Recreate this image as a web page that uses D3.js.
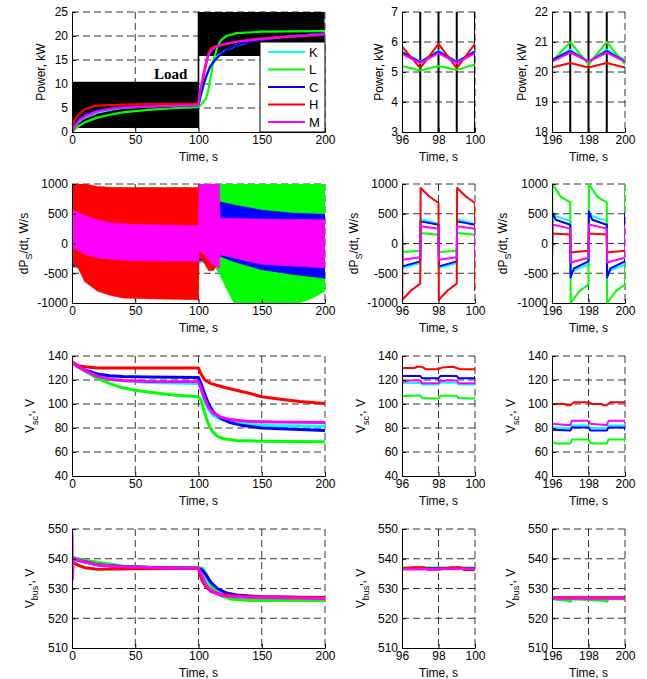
<!DOCTYPE html>
<html><head><meta charset="utf-8">
<script src="https://cdn.jsdelivr.net/npm/d3@7"></script>
<style>
body{margin:0;background:#fff}
text{font-family:"Liberation Sans",Arial,sans-serif;font-size:12px;fill:#000}
</style>
</head><body>
<svg id="fig" width="647" height="679"></svg>
<script>
var names = ["K","L","C","H","M"];
var colors = ["#00ffff","#00ff00","#0000ff","#ff0000","#ff00ff"];

// load demand: [from, to, low kW, high kW], switching every second
var loadLevels = [[0,100,1.0,10.3],[100,200,16,26]];

// power, whole run [t, kW]  (K, L, C, H, M)
var powerFull = [
  [[0,0],[2,1],[5,2],[10,3],[20,4],[30,4.6],[40,5],[60,5.3],[80,5.5],[100,5.6],[102,7.5],[104,9.5],[106,11.5],[108,13],[111,14.5],[115,15.8],[120,16.8],[130,18],[140,18.8],[150,19.3],[170,19.9],[200,20.5]],
  [[0,0],[5,1.2],[10,2],[20,3],[30,3.6],[40,4.1],[60,4.6],[80,4.95],[100,5.2],[103,6],[106,7],[108,9],[110,12],[112,15],[115,17.8],[118,19.2],[122,20],[130,20.6],[150,20.9],[200,21]],
  [[0,0],[2,1.2],[5,2.5],[10,3.5],[20,4.5],[40,5.2],[70,5.5],[100,5.6],[102,8],[104,10],[106,11.5],[109,13.5],[113,15],[118,16.3],[125,17.5],[135,18.5],[150,19.3],[170,19.9],[200,20.5]],
  [[0,0.3],[2,2.5],[5,3.6],[10,4.7],[15,5.2],[20,5.5],[40,5.7],[70,5.85],[100,5.9],[101,8],[102,9.5],[104,11.5],[106,14],[108,16.5],[110,17.5],[113,17.8],[116,18],[125,18.5],[140,19.2],[160,19.7],[200,20.3]],
  [[0,0],[2,1],[5,2.2],[10,3.2],[20,4.3],[30,4.8],[40,5.1],[70,5.4],[100,5.6],[101,8],[103,11],[105,13.5],[107,15.5],[110,17],[114,17.8],[120,18.3],[130,18.8],[150,19.4],[170,19.8],[200,20.4]]
];
var power96 = [
  [[96,5.7],[97,5.35],[98,5.72],[99,5.35],[100,5.72]],
  [[96,5.2],[97,5.05],[98,5.2],[99,5.07],[100,5.25]],
  [[96,5.65],[97,5.33],[98,5.68],[99,5.33],[100,5.68]],
  [[96,5.85],[97,5.13],[98,5.94],[99,5.13],[100,5.94]],
  [[96,5.6],[97,5.3],[98,5.63],[99,5.3],[100,5.63]]
];
var power196 = [
  [[196,20.4],[197,20.75],[198,20.35],[199,20.75],[200,20.4]],
  [[196,20.35],[197,21],[198,20.25],[199,21],[200,20.25]],
  [[196,20.4],[197,20.7],[198,20.35],[199,20.7],[200,20.35]],
  [[196,20.15],[197,20.3],[198,20.15],[199,20.3],[200,20.15]],
  [[196,20.35],[197,20.65],[198,20.35],[199,20.65],[200,20.35]]
];

// dPs/dt whole run, oscillation envelope [t, low, high] W/s
var dpdtBands = [
  [[0,-410,420],[100,-330,420],[117,-300,650],[150,-420,470],[200,-450,420]],
  [[0,-150,200],[100,-120,180],[101,-100,600],[105,-200,900],[110,-300,1000],[117,-530,1000],[123,-800,1000],[128,-1000,1000],[180,-1000,1000],[190,-920,1000],[200,-800,1000]],
  [[0,-390,380],[100,-300,320],[117,-215,700],[130,-320,640],[150,-440,560],[175,-520,510],[200,-585,490]],
  [[0,-330,1000],[5,-420,1000],[10,-640,1000],[15,-720,980],[20,-800,960],[30,-870,945],[40,-915,940],[60,-930,940],[100,-945,940],[100.5,-200,1000],[105,-350,1000],[108,-460,1000],[112,-450,1000],[116,-300,1000],[117,-150,170],[200,-120,150]],
  [[0,-1000,1000],[0.5,-80,560],[5,-120,520],[10,-180,470],[20,-240,400],[30,-270,350],[50,-290,320],[100,-300,300],[100.5,-120,1000],[105,-200,1000],[110,-330,1000],[116.5,-420,1000],[117,-190,430],[150,-350,410],[200,-410,400]]
];
var dpdt96 = [
  [[96,330],[96.02,-412],[97,-328],[97.02,412],[98,328],[98.02,-412],[99,-328],[99.02,412],[100,328]],
  [[96,148],[96.02,-143],[97,-120],[97.02,176],[98,148],[98.02,-143],[99,-120],[99.02,176],[100,148]],
  [[96,316],[96.02,-384],[97,-300],[97.02,372],[98,316],[98.02,-384],[99,-300],[99.02,372],[100,316]],
  [[96,690],[96.02,-945],[96.5,-790],[97,-675],[97.02,933],[97.5,790],[98,681],[98.02,-945],[98.5,-790],[99,-675],[99.02,933],[99.5,790],[100,681],[100,-800]],
  [[96,249],[96.02,-272],[97,-232],[97.02,288],[98,249],[98.02,-272],[99,-232],[99.02,288],[100,249],[100,-215]]
];
var dpdt196 = [
  [[196,-350],[196.02,480],[197,380],[197.02,-480],[198,-350],[198.02,480],[199,380],[199.02,-480],[200,-350]],
  [[196,-690],[196.02,1000],[196.5,780],[197,690],[197.02,-1000],[197.5,-800],[198,-690],[198.02,1000],[198.5,780],[199,690],[199.02,-1000],[199.5,-800],[200,-690],[200,1000]],
  [[196,-300],[196.02,520],[196.2,400],[197,316],[197.02,-570],[197.2,-420],[198,-300],[198.02,540],[198.2,400],[199,316],[199.02,-570],[199.2,-420],[200,-300],[200,520]],
  [[196,-120],[196.02,170],[197,150],[197.02,-150],[198,-120],[198.02,170],[199,150],[199.02,-150],[200,-120]],
  [[196,-240],[196.02,320],[197,250],[197.02,-320],[198,-240],[198.02,320],[199,250],[199.02,-320],[200,-240],[200,300]]
];

// supercapacitor voltage [t, V]
var vscFull = [
  [[0,135],[5,131],[10,128],[20,123.5],[30,121],[40,119.5],[60,118],[80,117.5],[100,117],[102,112],[105,102],[108,95],[112,90],[118,87],[125,85],[140,83],[160,82],[200,81.5]],
  [[0,135],[5,131],[10,127.5],[20,121.5],[30,117],[40,113.5],[50,111.5],[60,110],[80,107.5],[100,106],[102,103],[104,96],[106,89],[108,83],[111,77],[115,73],[120,71],[130,69.5],[150,69],[200,68.5]],
  [[0,135],[5,131],[10,128.5],[20,125],[30,123.5],[40,123],[60,122.5],[100,122],[102,117],[105,108],[108,100],[112,93],[118,88],[125,84.5],[135,82],[150,80],[175,79],[200,78]],
  [[0,135],[5,132],[10,131],[20,130],[50,130],[100,130],[102,125],[105,120],[110,117],[120,114],[130,111.5],[140,109],[150,106],[165,104],[180,102],[200,100.5]],
  [[0,135],[5,131],[10,128],[20,123],[30,120.5],[40,119.5],[60,118.8],[100,118.5],[102,113],[105,104],[108,97],[112,92],[118,89],[125,87],[140,85.5],[160,85],[200,84.5]]
];
var vsc96 = [
  [[96,117.3],[97,117.8],[97.1,116.2],[98,116.2],[98.1,117.8],[99,117.8],[99.1,116.2],[100,116.2],[100,117.5]],
  [[96,106.5],[96.7,107],[97,107],[97.1,105],[97.8,104.5],[98,104.5],[98.1,106.8],[99,106.8],[99.1,105],[99.8,104.5],[100,104.5],[100,106]],
  [[96,123.3],[97,123.3],[97.1,121.5],[98,121.5],[98.1,123.3],[99,123.3],[99.1,121.5],[100,121.5],[100,123.3]],
  [[96,130],[96.7,130],[96.8,131],[97.1,131],[97.3,129],[98,129],[98.2,130.5],[98.8,131],[99.2,129],[100,129],[100,130.5]],
  [[96,118],[96.4,119.5],[97,119.5],[97.1,117.3],[98,117.3],[98.1,119],[98.5,119.5],[99,119.5],[99.1,117.3],[100,117.3],[100,119]]
];
var vsc196 = [
  [[196,80.5],[197,80],[197.1,82],[198,82],[198.1,80],[199,80],[199.1,82],[200,82]],
  [[196,68],[196.3,67],[197,67],[197.1,70.5],[198,70.5],[198.1,67.5],[198.3,67],[199,67],[199.1,70.5],[200,70.5],[200,68]],
  [[196,78.5],[197,78],[197.1,80.5],[198,80.5],[198.1,78],[199,78],[199.1,80.5],[200,80.5],[200,78]],
  [[196,100],[196.7,100],[196.8,99],[197,99],[197.2,101.5],[198,101.5],[198.2,100],[198.7,100],[198.8,99],[199,99],[199.2,101.5],[200,101.5],[200,100]],
  [[196,83.5],[196.8,82.5],[197,82.5],[197.1,86],[198,86],[198.1,83.5],[198.9,82.5],[199,82.5],[199.1,86],[200,86],[200,84]]
];

// dc bus voltage [t, V]
var vbusFull = [
  [[0,540],[10,539],[20,538],[40,537.3],[70,537],[100,536.8],[102,536],[105,533.5],[108,531.5],[112,529.8],[118,528.5],[130,527.5],[150,527],[200,526.8]],
  [[0,540.5],[10,539.5],[20,538.8],[40,537.6],[60,537.2],[100,537],[103,536.8],[106,535],[109,532],[113,529],[118,527.5],[125,526.5],[140,526],[200,526]],
  [[0,540],[10,539],[20,538],[40,537.3],[70,537],[100,536.8],[103,536.2],[106,534.5],[110,532],[115,530],[122,528.5],[130,527.8],[150,527.2],[200,526.8]],
  [[0,539],[5,537.8],[10,537],[20,536.5],[50,536.6],[100,536.8],[101,535],[103,532.5],[106,530.5],[110,529],[118,528],[130,527.5],[150,527.2],[200,527]],
  [[0,549],[0.3,533],[1,540],[10,539],[20,538],[40,537.3],[70,537],[100,536.8],[102,535],[105,532],[108,530],[113,528.5],[120,527.5],[140,527],[200,526.6]]
];
var vbus96 = [
  [[96,536.6],[100,536.6]],
  [[96,537],[100,537]],
  [[96,536.7],[100,536.7]],
  [[96,536.7],[96.7,537.1],[97.2,537.1],[97.4,536.4],[98,536.4],[98.7,537.1],[99.2,537.1],[99.4,536.3],[100,536.3]],
  [[96,536.5],[100,536.6]]
];
var vbus196 = [
  [[196,526.8],[200,526.8]],
  [[196,526.5],[196.8,526],[197,525.6],[197.1,526.5],[198.8,526],[199,525.6],[199.1,526.5],[200,526.5]],
  [[196,526.8],[200,526.8]],
  [[196,527],[200,527]],
  [[196,526.6],[200,526.6]]
];

var xDomains = [[0,200],[96,100],[196,200]];
var xTicks = [[0,50,100,150,200],[96,98,100],[196,198,200]];

var svg = d3.select("#fig");
var cols = [[72,325],[402,475],[552,625]];
var rows = [[12,132],[184,303],[356,476],[529,648]];
var labelOff = [[27,19,26],[44,44,45],[38,37,37],[38,37,37]];
var clipN = 0;

function panel(r, c, yDom, yTicks, label) {
  var x = d3.scaleLinear().domain(xDomains[c]).range(cols[c]);
  var y = d3.scaleLinear().domain(yDom).range([rows[r][1], rows[r][0]]);
  var g = svg.append("g");
  // dashed grid
  xTicks[c].forEach(function(t) {
    if (t == xDomains[c][0]) return;
    g.append("line").attr("x1", x(t)).attr("x2", x(t)).attr("y1", rows[r][0]).attr("y2", rows[r][1])
      .attr("stroke", "#000").attr("stroke-width", 0.8).attr("stroke-dasharray", "7,4");
  });
  yTicks.forEach(function(t) {
    if (t == yDom[0]) return;
    g.append("line").attr("x1", cols[c][0]).attr("x2", cols[c][1]).attr("y1", y(t)).attr("y2", y(t))
      .attr("stroke", "#000").attr("stroke-width", 0.8).attr("stroke-dasharray", "7,4");
  });
  var id = "clip" + (clipN++);
  svg.append("clipPath").attr("id", id).append("rect")
    .attr("x", cols[c][0]).attr("y", rows[r][0])
    .attr("width", cols[c][1] - cols[c][0]).attr("height", rows[r][1] - rows[r][0]);
  var plot = svg.append("g").attr("clip-path", "url(#" + id + ")");
  var axes = svg.append("g");
  axes.append("g").attr("transform", "translate(0," + rows[r][1] + ")")
    .call(d3.axisBottom(x).tickValues(xTicks[c]).tickSize(-4).tickSizeOuter(0).tickPadding(3).tickFormat(function(d){return String(d);}));
  axes.append("g").attr("transform", "translate(" + cols[c][0] + ",0)")
    .call(d3.axisLeft(y).tickValues(yTicks).tickSize(-4).tickSizeOuter(0).tickPadding(4).tickFormat(function(d){return String(d);}));
  axes.selectAll("text").style("font-size", "12px").attr("fill", "#000");
  axes.selectAll(".domain,.tick line").attr("stroke", "#000");
  // labels
  svg.append("text").attr("x", (cols[c][0] + cols[c][1]) / 2).attr("y", rows[r][1] + 29)
    .attr("text-anchor", "middle").text("Time, s");
  var lx = cols[c][0] - labelOff[r][c], ly = (rows[r][0] + rows[r][1]) / 2;
  var t = svg.append("text").attr("text-anchor", "middle")
    .attr("transform", "translate(" + lx + "," + ly + ") rotate(-90)");
  label.forEach(function(p) {
    var s = t.append("tspan").text(p[0]);
    if (p[1] == "sub") s.attr("dy", 4).style("font-size", "9px");
    if (p[1] == "back") s.attr("dy", -4);
  });
  return {x: x, y: y, plot: plot};
}

function drawLines(p, data, w) {
  var line = d3.line().x(function(d){return p.x(d[0]);}).y(function(d){return p.y(d[1]);});
  data.forEach(function(s, i) {
    p.plot.append("path").datum(s).attr("d", line).attr("fill", "none")
      .attr("stroke", colors[i]).attr("stroke-width", w).attr("stroke-linejoin", "round");
  });
}

function drawBands(p, data) {
  var area = d3.area().x(function(d){return p.x(d[0]);})
    .y0(function(d){return p.y(d[1]);}).y1(function(d){return p.y(d[2]);});
  data.forEach(function(s, i) {
    p.plot.append("path").datum(s).attr("d", area).attr("fill", colors[i])
      .attr("stroke", colors[i]).attr("stroke-width", 0.6);
  });
}

function drawLoad(p, w) {
  var pts = [];
  loadLevels.forEach(function(L) {
    for (var t = L[0]; t < L[1]; t++) {
      var v = (t % 2 == 0) ? L[3] : L[2];
      pts.push([t, v]); pts.push([t + 1, v]);
    }
  });
  p.plot.append("path").datum(pts)
    .attr("d", d3.line().x(function(d){return p.x(d[0]);}).y(function(d){return p.y(d[1]);}))
    .attr("fill", "none").attr("stroke", "#000").attr("stroke-width", w);
}

var powLabel = [["Power, kW", ""]];
var dpLabel = [["dP", ""], ["S", "sub"], ["/dt, W/s", "back"]];
var vscLabel = [["V", ""], ["sc", "sub"], ["'", "subc"], [", V", "back"]];
var vbusLabel = [["V", ""], ["bus", "sub"], ["'", "subc"], [", V", "back"]];

// row 1: power
var p = panel(0, 0, [0,25], [0,5,10,15,20,25], powLabel);
drawLoad(p, 1.6);
drawLines(p, powerFull, 2.2);
p = panel(0, 1, [3,7], [3,4,5,6,7], powLabel);
drawLoad(p, 2);
drawLines(p, power96, 2);
p = panel(0, 2, [18,22], [18,19,20,21,22], powLabel);
drawLoad(p, 2);
drawLines(p, power196, 2);

// legend and load tag
var lg = svg.append("g");
lg.append("rect").attr("x", 260).attr("y", 42).attr("width", 65).attr("height", 90)
  .attr("fill", "#fff").attr("stroke", "#000").attr("stroke-width", 1);
names.forEach(function(n, i) {
  var yy = 52 + i * 17.5;
  lg.append("line").attr("x1", 268).attr("x2", 305).attr("y1", yy).attr("y2", yy)
    .attr("stroke", colors[i]).attr("stroke-width", 2);
  lg.append("text").attr("x", 309).attr("y", yy + 4.5).style("font-size", "13px").text(n);
});
svg.append("text").attr("x", 154).attr("y", 79)
  .style("font-family", "'Liberation Serif','Times New Roman',serif").style("font-size", "15px")
  .style("font-weight", "bold").text("Load");

// row 2: dPs/dt
var dTicks = [-1000,-500,0,500,1000];
p = panel(1, 0, [-1000,1000], dTicks, dpLabel);
drawBands(p, dpdtBands);
p = panel(1, 1, [-1000,1000], dTicks, dpLabel);
drawLines(p, dpdt96, 2);
p = panel(1, 2, [-1000,1000], dTicks, dpLabel);
drawLines(p, dpdt196, 2);

// row 3: Vsc
var vTicks = [40,60,80,100,120,140];
p = panel(2, 0, [40,140], vTicks, vscLabel);
drawLines(p, vscFull, 3);
p = panel(2, 1, [40,140], vTicks, vscLabel);
drawLines(p, vsc96, 2);
p = panel(2, 2, [40,140], vTicks, vscLabel);
drawLines(p, vsc196, 2);

// row 4: Vbus
var bTicks = [510,520,530,540,550];
p = panel(3, 0, [510,550], bTicks, vbusLabel);
drawLines(p, vbusFull, 3);
p = panel(3, 1, [510,550], bTicks, vbusLabel);
drawLines(p, vbus96, 2.5);
p = panel(3, 2, [510,550], bTicks, vbusLabel);
drawLines(p, vbus196, 2.5);
</script>
</body></html>
